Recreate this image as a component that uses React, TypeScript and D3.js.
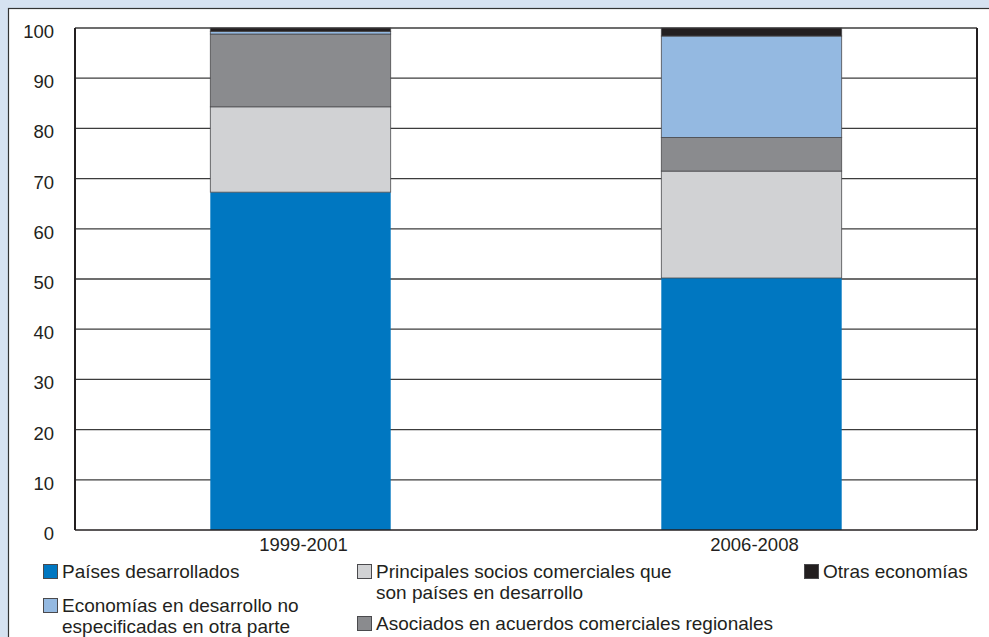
import React from "react";
import * as d3 from "d3";

const categories = ["1999-2001", "2006-2008"];
const seriesNames = [
  "Países desarrollados",
  "Principales socios comerciales que son países en desarrollo",
  "Asociados en acuerdos comerciales regionales",
  "Economías en desarrollo no especificadas en otra parte",
  "Otras economías",
];
const paisesDesarrollados = [67.3, 50.2];
const principalesSocios = [17.0, 21.3];
const asociadosAcuerdos = [14.5, 6.7];
const economiasNoEspecificadas = [0.5, 20.2];
const otrasEconomias = [0.7, 1.6];
const yTicks = [0, 10, 20, 30, 40, 50, 60, 70, 80, 90, 100];

const colors = ["#0077c1", "#d1d2d4", "#8a8b8e", "#94b9e1", "#231f20"];

const W = 989;
const H = 637;
const M = { left: 75, right: 977, top: 28, bottom: 530 };

export default function App() {
  const values = [paisesDesarrollados, principalesSocios, asociadosAcuerdos, economiasNoEspecificadas, otrasEconomias];
  const rows = categories.map((c, i) => {
    const r: any = { cat: c };
    seriesNames.forEach((s, k) => (r[s] = values[k][i]));
    return r;
  });
  const stack = d3.stack<any>().keys(seriesNames)(rows);
  const x = d3.scaleBand().domain(categories).range([M.left, M.right]).paddingInner(0.6).paddingOuter(0.3);
  const y = d3.scaleLinear().domain([0, 100]).range([M.bottom, M.top]);
  const font = "'Liberation Sans', Arial, sans-serif";

  const legend = [
    { k: 0, x: 43, y: 564, lines: ["Países desarrollados"] },
    { k: 1, x: 357, y: 564, lines: ["Principales socios comerciales que", "son países en desarrollo"] },
    { k: 4, x: 804, y: 564, lines: ["Otras economías"] },
    { k: 3, x: 43, y: 598, lines: ["Economías en desarrollo no", "especificadas en otra parte"] },
    { k: 2, x: 357, y: 616, lines: ["Asociados en acuerdos comerciales regionales"] },
  ];

  return (
    <svg width={W} height={H} style={{ position: "absolute", left: 0, top: 0 }} fontFamily={font}>
      <rect x={0} y={0} width={W} height={H} fill="#d6e2f1" />
      <rect x={8.5} y={8.5} width={W} height={H} fill="#ffffff" stroke="#333" strokeWidth={1.2} />
      {yTicks.map((t) => (
        <g key={t}>
          {t > 0 && (
            <line x1={M.left} x2={M.right} y1={y(t)} y2={y(t)} stroke="#3c3c3c" strokeWidth={1.3} />
          )}
          <text x={54} y={y(t) + 10} textAnchor="end" fontSize={18.5} fill="#231f20">
            {t}
          </text>
        </g>
      ))}
      <line x1={M.right} x2={M.right} y1={M.top} y2={M.bottom} stroke="#231f20" strokeWidth={2} />
      {stack.map((layer, k) =>
        layer.map((d, i) => (
          <rect
            key={k + "-" + i}
            x={x(categories[i])!}
            width={x.bandwidth()}
            y={y(d[1])}
            height={y(d[0]) - y(d[1])}
            fill={colors[k]}
            stroke={k === 0 ? "none" : "#4a4a4d"}
            strokeWidth={k === 0 ? 0 : 0.8}
          />
        ))
      )}
      <line x1={M.left} x2={M.left} y1={M.top} y2={M.bottom} stroke="#231f20" strokeWidth={2} />
      <line x1={M.left} x2={M.right} y1={M.bottom} y2={M.bottom} stroke="#231f20" strokeWidth={1.5} />
      {categories.map((c) => (
        <text key={c} x={x(c)! + x.bandwidth() / 2 + 3} y={551} textAnchor="middle" fontSize={18.5} fill="#231f20">
          {c}
        </text>
      ))}
      {legend.map((l) => (
        <g key={l.k}>
          <rect x={l.x + 0.5} y={l.y + 0.5} width={14} height={14} fill={colors[l.k]} stroke="#4a4a4d" strokeWidth={1} />
          {l.lines.map((ln, j) => (
            <text key={j} x={l.x + 19} y={l.y + 14 + j * 20.5} fontSize={19} fill="#231f20">
              {ln}
            </text>
          ))}
        </g>
      ))}
    </svg>
  );
}
